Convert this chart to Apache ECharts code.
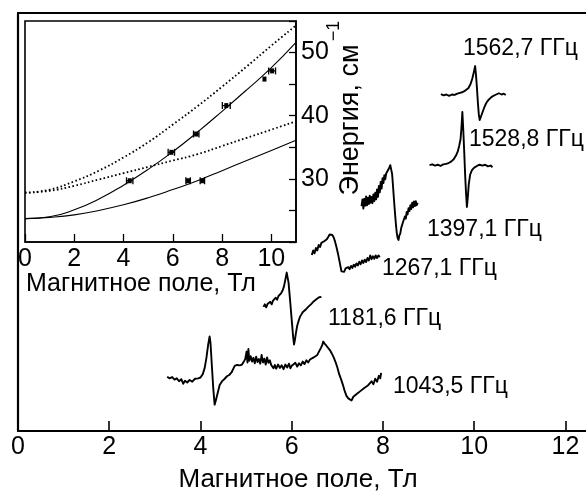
<!DOCTYPE html>
<html>
<head>
<meta charset="utf-8">
<script src="https://cdn.jsdelivr.net/npm/echarts@6/dist/echarts.min.js"></script>
<style>
html,body{margin:0;padding:0;background:#fff;}
#chart{width:586px;height:493px;}
</style>
</head>
<body>
<div id="chart"></div>
<script>
// ---------- DATA ----------
// Main panel: ESR spectra, x = magnetic field (T), y = signal (arbitrary units, offset per trace)
const spec1043 = [[3.27,13.0],[3.32,12.6],[3.38,12.9],[3.43,12.3],[3.48,12.6],[3.53,11.9],[3.58,12.4],[3.62,11.3],[3.66,12.0],[3.71,11.6],[3.76,12.2],[3.82,11.8],[3.88,12.5],[3.95,12.6],[4.00,12.8],[4.05,13.6],[4.09,15.0],[4.13,17.5],[4.17,20.8],[4.20,22.6],[4.22,21.0],[4.25,15.5],[4.28,10.2],[4.31,6.3],[4.34,7.5],[4.37,8.8],[4.42,11.0],[4.48,12.0],[4.53,12.5],[4.58,13.1],[4.63,13.4],[4.68,14.0],[4.72,14.3],[4.75,15.6],[4.80,15.8],[4.86,15.7],[4.91,15.9],[4.95,16.6],[4.98,17.2],[5.01,19.0],[5.03,16.4],[5.05,19.6],[5.07,16.8],[5.10,17.9],[5.13,16.6],[5.16,17.5],[5.19,16.2],[5.22,17.8],[5.25,16.5],[5.28,17.2],[5.31,16.1],[5.34,18.2],[5.37,16.4],[5.40,17.3],[5.43,15.9],[5.46,17.6],[5.49,16.3],[5.52,16.9],[5.55,15.8],[5.58,16.2],[5.60,15.0],[5.63,15.8],[5.66,14.9],[5.70,15.9],[5.74,15.1],[5.78,15.7],[5.82,14.8],[5.86,15.9],[5.90,15.2],[5.94,16.1],[5.97,15.0],[6.00,15.6],[6.04,15.3],[6.08,16.3],[6.12,15.4],[6.16,16.2],[6.20,15.7],[6.24,16.6],[6.28,16.0],[6.32,16.9],[6.36,16.4],[6.40,17.1],[6.44,16.8],[6.48,17.6],[6.52,17.3],[6.56,18.2],[6.60,18.6],[6.64,19.9],[6.67,20.6],[6.69,21.4],[6.72,20.9],[6.76,20.4],[6.80,20.1],[6.84,19.3],[6.88,18.5],[6.92,17.6],[6.96,16.5],[7.00,15.2],[7.04,13.6],[7.08,12.4],[7.12,11.1],[7.16,9.6],[7.20,8.4],[7.24,7.8],[7.28,8.1],[7.31,7.3],[7.35,8.2],[7.39,7.9],[7.43,8.9],[7.47,8.6],[7.51,9.6],[7.55,9.2],[7.59,10.3],[7.63,10.0],[7.67,10.9],[7.71,10.6],[7.75,11.9],[7.79,11.2],[7.83,12.5],[7.87,11.8],[7.91,13.2],[7.94,12.6],[7.96,13.9]];
const spec1181 = [[5.38,29.7],[5.41,30.3],[5.44,29.6],[5.47,30.4],[5.50,30.0],[5.53,30.9],[5.56,30.3],[5.59,31.2],[5.62,30.8],[5.65,31.9],[5.68,31.4],[5.71,32.3],[5.74,32.1],[5.77,33.0],[5.80,33.6],[5.83,34.6],[5.86,36.2],[5.89,37.9],[5.91,37.6],[5.93,35.5],[5.95,33.0],[5.97,30.5],[5.99,27.8],[6.01,25.2],[6.03,22.6],[6.05,20.7],[6.07,21.8],[6.09,23.3],[6.12,25.2],[6.15,26.3],[6.18,27.3],[6.21,27.6],[6.24,28.4],[6.27,28.1],[6.30,29.0],[6.33,28.8],[6.36,29.7],[6.39,29.4],[6.42,30.3],[6.45,30.0],[6.48,31.0],[6.51,30.6],[6.54,31.5],[6.57,31.2],[6.60,32.0],[6.63,31.6],[6.65,32.1]];
const spec1267 = [[6.44,42.1],[6.47,43.2],[6.50,42.5],[6.53,43.8],[6.56,43.2],[6.59,44.5],[6.62,44.0],[6.65,45.0],[6.68,44.6],[6.71,45.4],[6.74,45.1],[6.77,45.9],[6.80,46.4],[6.83,47.0],[6.86,47.4],[6.89,46.9],[6.92,46.3],[6.95,45.3],[6.98,44.0],[7.01,42.6],[7.04,41.0],[7.07,39.3],[7.09,38.2],[7.12,38.6],[7.15,38.1],[7.18,38.9],[7.21,38.5],[7.24,39.2],[7.27,38.7],[7.30,39.5],[7.33,39.0],[7.36,39.8],[7.39,39.3],[7.42,40.1],[7.45,39.6],[7.48,40.5],[7.51,39.9],[7.54,40.8],[7.57,40.2],[7.60,41.0],[7.63,40.4],[7.66,41.4],[7.69,40.8],[7.72,42.0],[7.75,41.1],[7.78,41.8],[7.81,41.2],[7.84,42.0],[7.87,41.4],[7.90,42.0],[7.93,41.6]];
const spec1397 = [[7.53,53.8],[7.55,55.4],[7.57,53.2],[7.59,55.6],[7.61,53.9],[7.63,56.1],[7.65,54.0],[7.67,55.8],[7.69,54.3],[7.71,56.3],[7.73,54.6],[7.75,56.0],[7.77,54.5],[7.79,56.6],[7.81,55.0],[7.83,57.0],[7.85,55.4],[7.87,57.8],[7.89,56.0],[7.91,58.6],[7.93,57.1],[7.95,59.6],[7.97,58.0],[7.99,60.5],[8.01,59.3],[8.03,61.2],[8.05,60.2],[8.07,61.6],[8.10,61.4],[8.13,62.8],[8.16,63.6],[8.18,63.2],[8.20,61.5],[8.22,58.6],[8.24,55.5],[8.26,52.6],[8.28,49.9],[8.30,47.6],[8.32,46.2],[8.34,45.7],[8.36,46.8],[8.38,47.3],[8.40,48.6],[8.42,48.4],[8.44,50.0],[8.46,49.6],[8.48,51.3],[8.50,50.8],[8.52,52.4],[8.54,51.8],[8.56,53.3],[8.58,52.6],[8.60,54.0],[8.62,53.1],[8.64,54.6],[8.66,53.5],[8.68,54.9],[8.70,53.8],[8.72,55.0],[8.74,54.0],[8.76,54.6]];
const spec1528 = [[9.02,63.6],[9.08,63.8],[9.14,63.5],[9.20,63.7],[9.26,63.4],[9.32,63.8],[9.38,63.9],[9.44,64.1],[9.50,64.5],[9.55,65.0],[9.60,65.9],[9.64,66.9],[9.67,68.2],[9.70,69.8],[9.72,72.5],[9.74,76.3],[9.76,72.0],[9.78,67.0],[9.80,61.5],[9.82,57.0],[9.84,53.6],[9.86,56.0],[9.88,59.0],[9.91,61.3],[9.95,62.4],[10.00,63.0],[10.06,63.4],[10.12,63.7],[10.18,63.5],[10.24,63.7],[10.30,63.3],[10.36,63.5],[10.40,63.1]];
const spec1562 = [[9.27,80.6],[9.33,80.3],[9.39,80.5],[9.45,80.2],[9.51,80.5],[9.57,80.4],[9.63,80.7],[9.69,80.9],[9.75,81.1],[9.81,81.5],[9.87,82.0],[9.92,83.0],[9.96,84.4],[9.99,85.8],[10.02,87.3],[10.04,85.0],[10.06,82.0],[10.08,78.6],[10.10,75.8],[10.12,74.4],[10.15,75.3],[10.18,76.2],[10.22,77.4],[10.26,78.4],[10.31,79.2],[10.36,79.7],[10.42,80.2],[10.48,80.5],[10.54,80.8],[10.60,80.5],[10.65,80.7],[10.69,80.4]];
const specLabels = ['1043,5 ГГц','1181,6 ГГц','1267,1 ГГц','1397,1 ГГц','1528,8 ГГц','1562,7 ГГц'];

// Inset: energy (cm^-1) vs field (T)
const insetB       = [0,1,2,3,4,5,6,7,8,9,10,11];
const upperSolid   = [23.7,24.0,25.1,26.8,29.0,31.5,34.3,37.4,40.7,44.1,47.6,51.6];
const lowerSolid   = [23.7,23.9,24.3,25.0,25.9,27.0,28.3,29.7,31.3,32.9,34.5,36.1];
const upperDotted  = [27.8,28.3,29.6,31.3,33.4,35.8,38.6,41.5,44.6,47.8,51.1,54.3];
const lowerDotted  = [27.8,28.1,28.9,29.9,30.9,31.9,32.9,33.9,35.2,36.5,37.8,39.1];
// experimental points: [field, energy, field error]
const expPoints = [[4.25,29.7,0.13],[5.94,34.2,0.13],[6.95,37.1,0.11],[8.17,41.6,0.16],[9.72,45.8,0],[10.03,47.1,0.14],[6.62,29.7,0.09],[7.20,29.7,0.09]];

// ---------- CHART ----------
const FONT = "'Liberation Sans', Arial, Helvetica, sans-serif";
const chart = echarts.init(document.getElementById('chart'), null, {renderer: 'canvas'});

function pairs(xs, ys){ return xs.map((x,i)=>[x, ys[i]]); }

function traceSeries(data){
  return {type:'line', xAxisIndex:0, yAxisIndex:0, data:data, symbol:'none', smooth:false,
          lineStyle:{color:'#000', width:1.9, join:'round'}, silent:true, z:3};
}
function insetLine(data, dotted){
  return {type:'line', xAxisIndex:2, yAxisIndex:1, data:data, symbol:'none', smooth:true,
          lineStyle:{color:'#000', width: dotted ? 1.8 : 1.1, type: dotted ? [1.6, 2.4] : 'solid', cap:'butt'},
          silent:true, z:5};
}

function renderErr(params, api){
  const x = api.value(0), y = api.value(1), e = api.value(2);
  const c = api.coord([x, y]);
  const children = [];
  if (e > 0){
    const l = api.coord([x - e, y]);
    const r = api.coord([x + e, y]);
    const st = {stroke:'#000', lineWidth:1.3};
    children.push({type:'line', shape:{x1:l[0], y1:c[1], x2:r[0], y2:c[1]}, style:st});
    children.push({type:'line', shape:{x1:l[0], y1:c[1]-3.5, x2:l[0], y2:c[1]+3.5}, style:st});
    children.push({type:'line', shape:{x1:r[0], y1:c[1]-3.5, x2:r[0], y2:c[1]+3.5}, style:st});
  }
  children.push({type:'rect', shape:{x:c[0]-2, y:c[1]-2.5, width:4, height:5}, style:{fill:'#000'}});
  return {type:'group', children:children};
}

// label placement (pixels) for spectrum captions
const labelPos = [[393,387],[328,319],[382,269],[427,230],[469,140],[463,49]];

const graphics = specLabels.map((t,i)=>({
  type:'text', x:labelPos[i][0], y:labelPos[i][1], z:10,
  style:{text:t, fill:'#000', font:'23px ' + FONT, textVerticalAlign:'middle', textAlign:'left'}
}));
graphics.push({
  type:'text', x:351, y:120, rotation:Math.PI/2, z:10,
  style:{text:'Энергия, см', fill:'#000', font:'27px ' + FONT, textAlign:'center', textVerticalAlign:'middle'}
});
graphics.push({
  type:'text', x:334, y:31, rotation:Math.PI/2, z:10,
  style:{text:'−1', fill:'#000', font:'18px ' + FONT, textAlign:'center', textVerticalAlign:'middle'}
});
graphics.push({
  type:'text', x:26, y:284, z:10,
  style:{text:'Магнитное поле, Тл', fill:'#000', font:'25px ' + FONT, textAlign:'left', textVerticalAlign:'middle'}
});
// main axis title
graphics.push({
  type:'text', x:298, y:480, z:10,
  style:{text:'Магнитное поле, Тл', fill:'#000', font:'26px ' + FONT, textAlign:'center', textVerticalAlign:'middle'}
});

const option = {
  backgroundColor:'#fff',
  animation:false,
  textStyle:{fontFamily:FONT},
  grid:[
    {left:18, right:0, top:13, bottom:62, show:false},
    {left:25, top:21, width:271, height:221, show:true, backgroundColor:'#fff', borderColor:'#000', borderWidth:1.6, z:4}
  ],
  xAxis:[
    {type:'value', gridIndex:0, min:0, max:12.45, interval:2, position:'bottom',
     axisLine:{show:true, onZero:false, lineStyle:{color:'#000', width:2.2}},
     axisTick:{show:true, inside:true, length:10, lineStyle:{color:'#000', width:1.6}},
     axisLabel:{show:true, color:'#000', fontSize:25, fontFamily:FONT, margin:4, showMaxLabel:false},
     splitLine:{show:false}},
    {type:'value', gridIndex:0, min:0, max:12.45, position:'top',
     axisLine:{show:true, onZero:false, lineStyle:{color:'#000', width:2.2}},
     axisTick:{show:false}, axisLabel:{show:false}, splitLine:{show:false}},
    {type:'value', gridIndex:1, min:0, max:11, interval:2, position:'bottom',
     axisLine:{show:true, onZero:false, lineStyle:{color:'#000', width:1.6}},
     axisTick:{show:true, inside:true, length:8, lineStyle:{color:'#000', width:1.3}},
     axisLabel:{show:true, color:'#000', fontSize:25, fontFamily:FONT, margin:5, showMaxLabel:false},
     splitLine:{show:false}, z:6}
  ],
  yAxis:[
    {type:'value', gridIndex:0, min:0, max:100, position:'left',
     axisLine:{show:true, onZero:false, lineStyle:{color:'#000', width:2.2}},
     axisTick:{show:false}, axisLabel:{show:false}, splitLine:{show:false}},
    {type:'value', gridIndex:1, min:20, max:55, interval:5, position:'right',
     axisLine:{show:true, onZero:false, lineStyle:{color:'#000', width:1.6}},
     axisTick:{show:true, inside:true, length:7, lineStyle:{color:'#000', width:1.3}},
     axisLabel:{show:true, color:'#000', fontSize:25, fontFamily:FONT, margin:5, padding:[6,0,0,0],
       formatter:function(v){ return (v >= 30 && v % 10 === 0) ? String(v) : ''; }},
     splitLine:{show:false}, z:6}
  ],
  series:[
    traceSeries(spec1043),
    traceSeries(spec1181),
    traceSeries(spec1267),
    traceSeries(spec1397),
    traceSeries(spec1528),
    traceSeries(spec1562),
    insetLine(pairs(insetB, upperDotted), true),
    insetLine(pairs(insetB, lowerDotted), true),
    insetLine(pairs(insetB, upperSolid), false),
    insetLine(pairs(insetB, lowerSolid), false),
    {type:'custom', xAxisIndex:2, yAxisIndex:1, data:expPoints, renderItem:renderErr, silent:true, z:7}
  ],
  graphic:graphics
};
chart.setOption(option);
</script>
</body>
</html>
